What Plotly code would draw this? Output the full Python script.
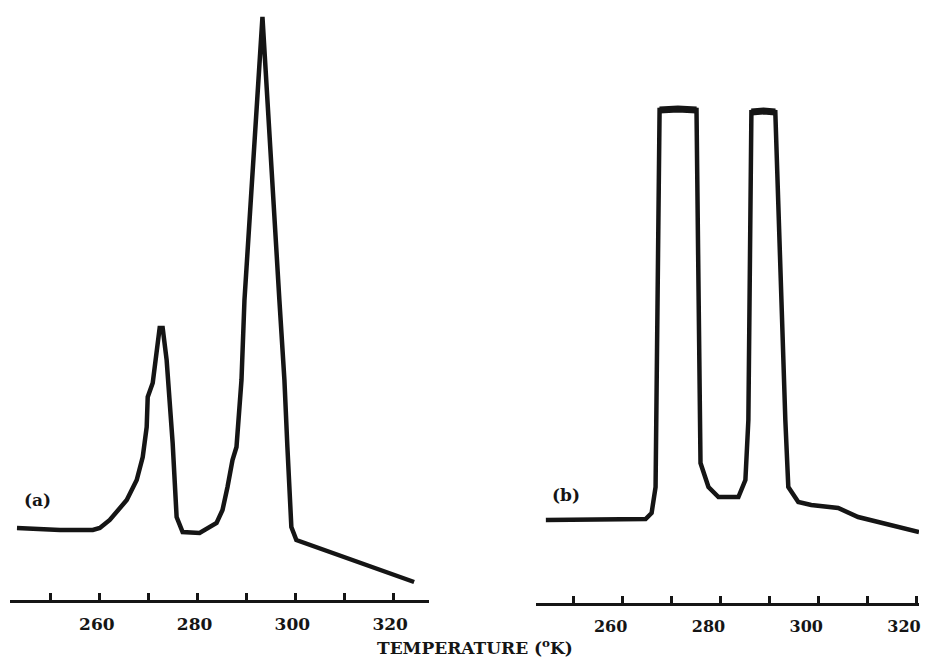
import plotly.graph_objects as go

# Panel (a): temperature (K) vs. signal (arbitrary units)
temp_a = [243.06, 251.84, 258.57, 260.00, 262.04, 265.51, 267.55, 268.78, 269.59, 269.80,
          270.82, 272.24, 272.86, 273.67, 274.90, 275.71, 276.94, 280.41, 283.88, 285.10,
          286.12, 287.14, 287.96, 288.57, 288.98, 289.59, 293.27, 296.73, 297.76, 298.37,
          299.18, 300.20, 324.29]
signal_a = [72, 70, 70, 72, 80, 100, 120, 143, 173, 203,
            217, 272, 272, 240, 157, 83, 68, 67, 77, 90,
            113, 140, 153, 187, 220, 300, 583, 300, 220, 153,
            73, 60, 18]

# Panel (b): temperature (K) vs. signal (arbitrary units)
temp_b = [244.29, 255.10, 264.69, 265.92, 266.73, 267.55, 271.30, 275.10, 275.92, 277.55,
          279.59, 283.67, 285.10, 285.71, 286.33, 288.80, 291.22, 293.27, 293.88, 295.92,
          298.57, 304.08, 308.16, 320.61]
signal_b = [83, 83, 84, 90, 116, 493, 494, 493, 140, 116,
            106, 106, 123, 183, 491, 492, 491, 183, 116, 101,
            98, 95, 86, 71]

tick_vals = [250, 260, 270, 280, 290, 300, 310, 320]
tick_text = ["", "260", "", "280", "", "300", "", "320"]

x_title = "TEMPERATURE (<sup>o</sup>K)"
panel_labels = ["(a)", "(b)"]

INK = "#151515"

fig = go.Figure()
fig.add_trace(go.Scatter(x=temp_a, y=signal_a, mode="lines",
                         line=dict(color=INK, width=4.5), xaxis="x", yaxis="y",
                         showlegend=False, hoverinfo="skip"))
fig.add_trace(go.Scatter(x=temp_b, y=signal_b, mode="lines",
                         line=dict(color=INK, width=4.5), xaxis="x2", yaxis="y2",
                         showlegend=False, hoverinfo="skip"))
# heavier ink on the flat (saturated) tops of panel (b)
for lo, hi in [(5, 7), (14, 16)]:
    fig.add_trace(go.Scatter(x=temp_b[lo:hi + 1], y=signal_b[lo:hi + 1], mode="lines",
                             line=dict(color=INK, width=7), xaxis="x2", yaxis="y2",
                             showlegend=False, hoverinfo="skip"))

# The page body adds an 8 px margin, so the figure is sized to fit inside the window.
W, H = 913, 652
PLOT_H = 595
common_x = dict(showline=True, linecolor=INK, linewidth=3, ticks="inside",
                ticklen=7, tickwidth=3, tickcolor=INK, tickvals=tick_vals,
                ticktext=tick_text, showgrid=False, zeroline=False,
                ticklabelstandoff=7, ticklabeloverflow="allow")

fig.update_layout(
    width=W, height=H,
    margin=dict(l=0, r=0, t=0, b=H - PLOT_H),
    paper_bgcolor="white", plot_bgcolor="rgba(0,0,0,0)",
    xaxis=dict(domain=[2 / W, 422 / W], range=[241.63, 327.35], anchor="y",
               ticklabelshift=-3,
               tickfont=dict(family="DejaVu Serif", size=17, color=INK, weight="bold"),
               **common_x),
    yaxis=dict(domain=[3 / PLOT_H, 1], range=[0, 592], visible=False),
    xaxis2=dict(domain=[529 / W, 1], range=[242.24, 320.61], anchor="y2",
                ticklabelshift=-12,
                tickfont=dict(family="DejaVu Serif", size=16, color=INK, weight="bold"),
                **common_x),
    yaxis2=dict(domain=[0, 1], range=[0, 595], visible=False),
    font=dict(family="DejaVu Serif"),
)

fig.add_annotation(text="<b>" + x_title + "</b>", xref="paper", yref="paper",
                   x=468 / W, y=(PLOT_H - 639) / PLOT_H, xanchor="center", yanchor="middle",
                   showarrow=False,
                   font=dict(family="DejaVu Serif", size=17, color=INK))
fig.add_annotation(text="<b>" + panel_labels[0] + "</b>", xref="x", yref="y",
                   x=247.35, y=100, showarrow=False,
                   font=dict(family="DejaVu Serif", size=17, color=INK))
fig.add_annotation(text="<b>" + panel_labels[1] + "</b>", xref="x2", yref="y2",
                   x=248.37, y=108, showarrow=False,
                   font=dict(family="DejaVu Serif", size=17, color=INK))

fig.write_html("out.html", config={"displayModeBar": False})
